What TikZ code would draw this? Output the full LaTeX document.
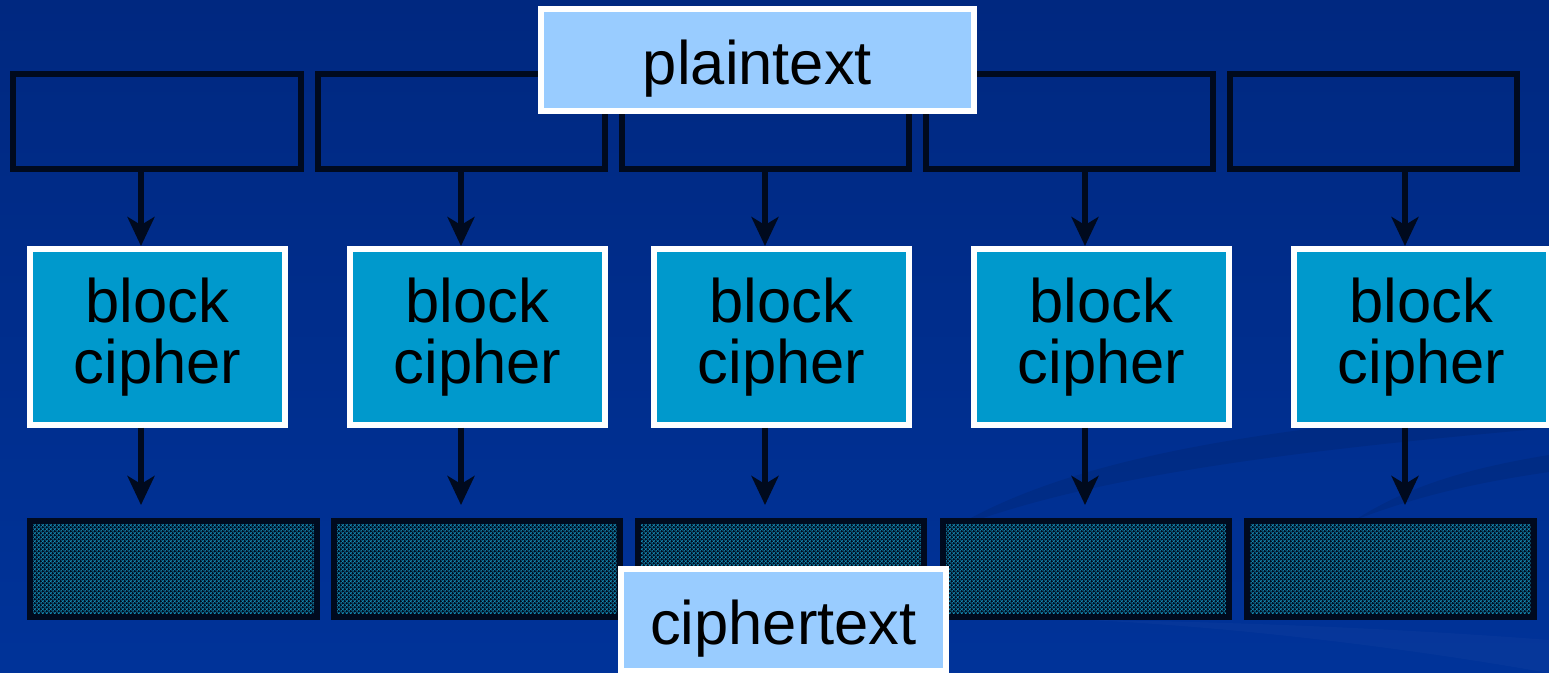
\documentclass[tikz,border=0pt]{standalone}
\usepackage{fontspec}
\setmainfont{Liberation Sans}
\usetikzlibrary{arrows.meta,patterns}

\definecolor{bgtop}{RGB}{0,40,128}
\definecolor{bgbot}{RGB}{0,51,153}
\definecolor{edgecol}{RGB}{0,10,30}
\definecolor{ciphfill}{RGB}{0,153,204}
\definecolor{labfill}{RGB}{153,204,255}
\definecolor{dotcol}{RGB}{20,140,180}

\pgfdeclarepatternformonly{tealmesh}{\pgfpointorigin}{\pgfpoint{2.4pt}{2.4pt}}{\pgfpoint{2.4pt}{2.4pt}}{
  \pgfsetlinewidth{0.35pt}
  \pgfpathmoveto{\pgfpoint{0pt}{0pt}}\pgfpathlineto{\pgfpoint{2.4pt}{2.4pt}}
  \pgfpathmoveto{\pgfpoint{0pt}{2.4pt}}\pgfpathlineto{\pgfpoint{2.4pt}{0pt}}
  \pgfusepath{stroke}}

\begin{document}
\begin{tikzpicture}[x=0.02cm,y=-0.02cm]

      \tikzset{plainblk/.style={draw=edgecol, line width=0.12cm, minimum width=5.76cm, minimum height=1.9cm, inner sep=0pt},
               cipherblk/.style={draw=white, line width=0.12cm, fill=ciphfill, minimum width=5.12cm, minimum height=3.52cm, inner sep=0pt, align=center, font=\fontsize{35}{34.6}\selectfont},
               outblk/.style={draw=edgecol, line width=0.12cm, preaction={fill=edgecol}, pattern=tealmesh, pattern color=dotcol, minimum width=5.74cm, minimum height=1.92cm, inner sep=0pt},
               lbl/.style={draw=white, line width=0.11cm, fill=labfill, inner sep=0pt, font=\fontsize{35}{35}\selectfont, text height=1.05cm, text depth=0.08cm},
               arr/.style={-{Stealth[length=0.58cm, width=0.54cm, inset=0.16cm]}, draw=edgecol, line width=0.12cm}}
%% Background
      \useasboundingbox (0,0) rectangle (1549,673);
      \clip (0,0) rectangle (1549,673);
      \shade[top color=bgtop, bottom color=bgbot] (0,0) rectangle (1549,673);
      \fill[edgecol, opacity=0.1] (950,530) .. controls (1080,450) and (1300,425) .. (1549,405) -- (1549,428) .. controls (1300,450) and (1090,475) .. (950,530);
      \fill[edgecol, opacity=0.1] (1355,520) .. controls (1410,485) and (1470,468) .. (1549,455) -- (1549,472) .. controls (1480,482) and (1420,495) .. (1355,520);
      \fill[white, opacity=0.025] (1090,620) .. controls (1250,628) and (1420,650) .. (1549,673) -- (1549,640) .. controls (1420,630) and (1250,622) .. (1090,620);
%% Arrow columns
      \coordinate (a1) at (141,0);
      \coordinate (a2) at (461,0);
      \coordinate (a3) at (765,0);
      \coordinate (a4) at (1085,0);
      \coordinate (a5) at (1405,0);
%% Plaintext blocks
      \node[plainblk] (t1) at (157,121.5) {};
      \node[plainblk] (t2) at (461.5,121.5) {};
      \node[plainblk] (t3) at (765.5,121.5) {};
      \node[plainblk] (t4) at (1069.5,121.5) {};
      \node[plainblk] (t5) at (1373.5,121.5) {};
%% Block ciphers
      \node[cipherblk] (c1) at (157.5,337) {block\\cipher};
      \node[cipherblk] (c2) at (477.5,337) {block\\cipher};
      \node[cipherblk] (c3) at (781.5,337) {block\\cipher};
      \node[cipherblk] (c4) at (1101.5,337) {block\\cipher};
      \node[cipherblk] (c5) at (1421.5,337) {block\\cipher};
%% Ciphertext blocks
      \node[outblk] (b1) at (173.5,569) {};
      \node[outblk] (b2) at (477,569) {};
      \node[outblk] (b3) at (781,569) {};
      \node[outblk] (b4) at (1086,569) {};
      \node[outblk] (b5) at (1390.5,569) {};
%Arrows
      \draw [arr] (t1.south -| a1) -- (c1.north -| a1);
      \draw [arr] (t2.south -| a2) -- (c2.north -| a2);
      \draw [arr] (t3.south -| a3) -- (c3.north -| a3);
      \draw [arr] (t4.south -| a4) -- (c4.north -| a4);
      \draw [arr] (t5.south -| a5) -- (c5.north -| a5);
      \draw [arr, shorten >=0.26cm] (c1.south -| a1) -- (b1.north -| a1);
      \draw [arr, shorten >=0.26cm] (c2.south -| a2) -- (b2.north -| a2);
      \draw [arr, shorten >=0.26cm] (c3.south -| a3) -- (b3.north -| a3);
      \draw [arr, shorten >=0.26cm] (c4.south -| a4) -- (b4.north -| a4);
      \draw [arr, shorten >=0.26cm] (c5.south -| a5) -- (b5.north -| a5);
%% Labels
      \node[lbl, minimum width=8.66cm, minimum height=2.04cm] (plain) at (757.5,60) {plaintext};
      \node[lbl, minimum width=6.5cm, minimum height=2.04cm] (ciph) at (783.5,620) {ciphertext};

\end{tikzpicture}
\end{document}
